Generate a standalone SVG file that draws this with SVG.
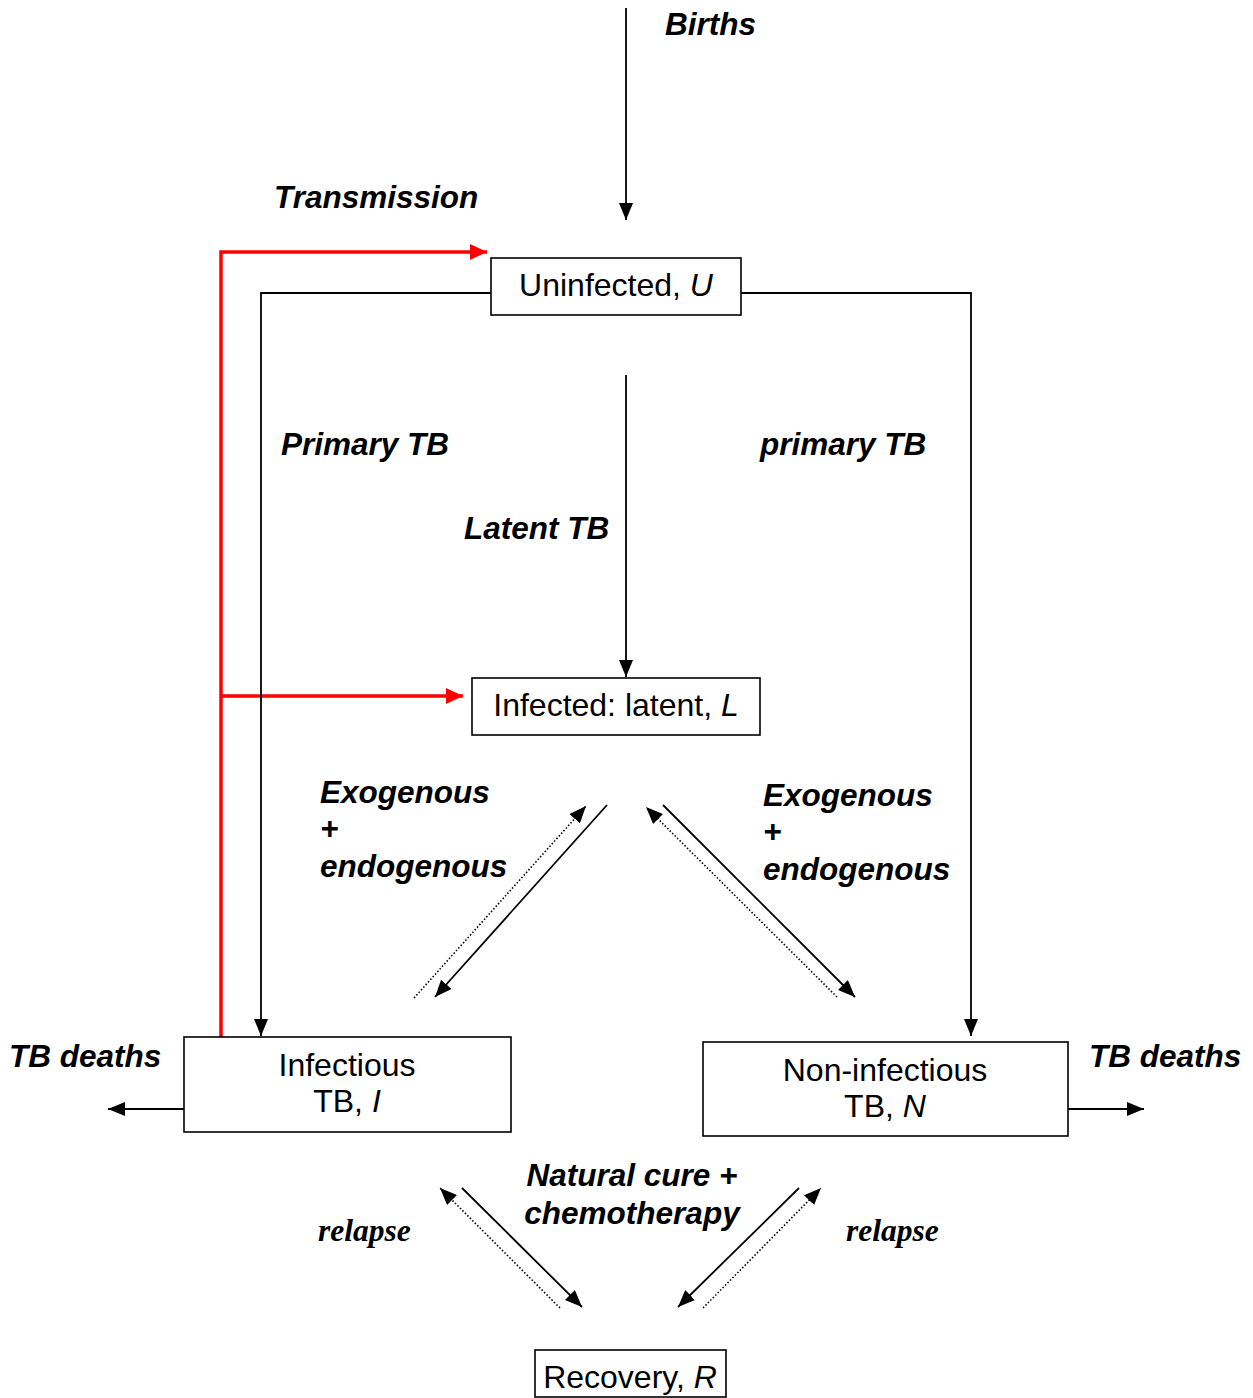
<svg xmlns="http://www.w3.org/2000/svg" width="1253" height="1398" viewBox="0 0 1253 1398">
<style>
.box{fill:#fff;stroke:#000;stroke-width:1.6}
.nt{font-family:"Liberation Sans",Arial,sans-serif;font-size:32px;fill:#000;text-anchor:middle}
.lb{font-family:"Liberation Sans",Arial,sans-serif;font-size:31.5px;font-weight:bold;font-style:italic;fill:#000}
.rl{font-family:"Liberation Serif","Times New Roman",serif;font-size:31.5px;font-weight:bold;font-style:italic;fill:#000}
.ln{fill:none;stroke:#000;stroke-width:1.8}
.dt{fill:none;stroke:#000;stroke-width:1.6;stroke-dasharray:1.5 2}
.rd{fill:none;stroke:#f00;stroke-width:3.5}
</style>
<defs>
<marker id="ah" markerUnits="userSpaceOnUse" markerWidth="18" markerHeight="14" refX="17" refY="7" orient="auto"><path d="M0,0 L17,7 L0,14 z" fill="#000"/></marker>
<marker id="ahr" markerUnits="userSpaceOnUse" markerWidth="18" markerHeight="16" refX="17" refY="8" orient="auto"><path d="M0,0 L17,8 L0,16 z" fill="#f00"/></marker>
</defs>
<rect width="1253" height="1398" fill="#fff"/>
<g id="connectors">
<line class="ln" x1="626" y1="8" x2="626" y2="220" marker-end="url(#ah)"/>
<polyline class="rd" points="221,1037 221,252 487,252" marker-end="url(#ahr)"/>
<line class="rd" x1="221" y1="696" x2="463" y2="696" marker-end="url(#ahr)"/>
<polyline class="ln" points="491,293 261,293 261,1036" marker-end="url(#ah)"/>
<polyline class="ln" points="741,293 971,293 971,1036" marker-end="url(#ah)"/>
<line class="ln" x1="626" y1="375" x2="626" y2="677" marker-end="url(#ah)"/>
<line class="ln" x1="607" y1="805" x2="435" y2="997" marker-end="url(#ah)"/>
<line class="dt" x1="414" y1="998" x2="586" y2="806" marker-end="url(#ah)"/>
<line class="ln" x1="663" y1="805" x2="855" y2="997" marker-end="url(#ah)"/>
<line class="dt" x1="837" y1="997" x2="646" y2="807" marker-end="url(#ah)"/>
<line class="ln" x1="184" y1="1109" x2="108" y2="1109" marker-end="url(#ah)"/>
<line class="ln" x1="1068" y1="1109" x2="1144" y2="1109" marker-end="url(#ah)"/>
<line class="ln" x1="462" y1="1188" x2="582" y2="1307" marker-end="url(#ah)"/>
<line class="dt" x1="560" y1="1308" x2="440" y2="1188" marker-end="url(#ah)"/>
<line class="ln" x1="799" y1="1188" x2="678" y2="1307" marker-end="url(#ah)"/>
<line class="dt" x1="703" y1="1308" x2="821" y2="1188" marker-end="url(#ah)"/>
</g>
<g id="uninfected">
<rect class="box" x="491" y="258" width="250" height="57"/>
<text class="nt" x="616" y="296">Uninfected, <tspan font-style="italic">U</tspan></text>
</g>
<g id="latent">
<rect class="box" x="472" y="678" width="288" height="57"/>
<text class="nt" x="616" y="716">Infected: latent, <tspan font-style="italic">L</tspan></text>
</g>
<g id="infectious">
<rect class="box" x="184" y="1037" width="327" height="95"/>
<text class="nt" x="347" y="1076">Infectious</text>
<text class="nt" x="347" y="1112">TB, <tspan font-style="italic">I</tspan></text>
</g>
<g id="noninfectious">
<rect class="box" x="703" y="1042" width="365" height="94"/>
<text class="nt" x="885" y="1081">Non-infectious</text>
<text class="nt" x="885" y="1117">TB, <tspan font-style="italic">N</tspan></text>
</g>
<g id="recovery">
<rect class="box" x="535" y="1350" width="191" height="47"/>
<text class="nt" x="630" y="1388">Recovery, <tspan font-style="italic">R</tspan></text>
</g>
<g id="labels">
<text class="lb" x="665" y="35">Births</text>
<text class="lb" x="274" y="208">Transmission</text>
<text class="lb" x="281" y="455">Primary TB</text>
<text class="lb" x="760" y="455">primary TB</text>
<text class="lb" x="464" y="539">Latent TB</text>
<text class="lb" x="320" y="803">Exogenous</text>
<text class="lb" x="320" y="839">+</text>
<text class="lb" x="320" y="877">endogenous</text>
<text class="lb" x="763" y="806">Exogenous</text>
<text class="lb" x="763" y="842">+</text>
<text class="lb" x="763" y="880">endogenous</text>
<text class="lb" x="9" y="1067">TB deaths</text>
<text class="lb" x="1089" y="1067">TB deaths</text>
<text class="lb" x="632" y="1186" text-anchor="middle">Natural cure +</text>
<text class="lb" x="632" y="1224" text-anchor="middle">chemotherapy</text>
<text class="rl" x="318" y="1241">relapse</text>
<text class="rl" x="846" y="1241">relapse</text>
</g>
</svg>
